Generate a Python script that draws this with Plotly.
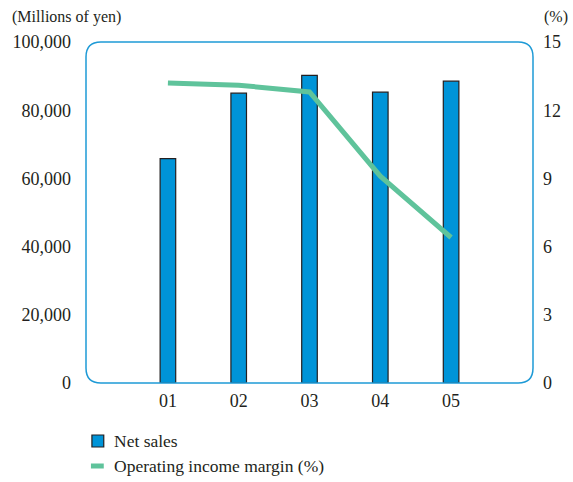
import plotly.graph_objects as go

# Fiscal years and values
years = ["01", "02", "03", "04", "05"]
net_sales = [65800, 85000, 90200, 85300, 88500]          # millions of yen
op_margin = [13.2, 13.1, 12.8, 9.1, 6.4]                 # %
left_ticks = [0, 20000, 40000, 60000, 80000, 100000]
right_ticks = [0, 3, 6, 9, 12, 15]

W, H = 573, 482
L, R, T, B = 86, 34, 42, 99
pw, ph = W - L - R, H - T - B

FONT = "Liberation Serif"
TXT = "#231F20"
BLUE = "#0094D8"
FRAME = "#1E9AD6"
GREEN = "#5FC39B"


def px_x(px):
    return (px - L) / pw


def px_y(py):
    return (H - B - py) / ph


fig = go.Figure()
fig.add_trace(go.Bar(
    x=years, y=net_sales, name="Net sales", width=0.22,
    marker=dict(color=BLUE, line=dict(color=TXT, width=1.2)),
    yaxis="y", showlegend=False,
))
fig.add_trace(go.Scatter(
    x=years, y=op_margin, name="Operating income margin (%)", mode="lines",
    line=dict(color=GREEN, width=5), yaxis="y2", showlegend=False,
))

# Rounded plot frame
rx, ry = 15 / pw, 15 / ph
frame = (f"M {rx},0 L {1-rx},0 Q 1,0 1,{ry} L 1,{1-ry} Q 1,1 {1-rx},1 "
         f"L {rx},1 Q 0,1 0,{1-ry} L 0,{ry} Q 0,0 {rx},0 Z")
shapes = [dict(type="path", path=frame, xref="paper", yref="paper",
               line=dict(color=FRAME, width=1.5), layer="above")]

# Legend keys
shapes.append(dict(type="rect", xref="paper", yref="paper",
                   x0=px_x(92), x1=px_x(104), y0=px_y(447), y1=px_y(435),
                   fillcolor=BLUE, line=dict(color=TXT, width=1.2)))
shapes.append(dict(type="line", xref="paper", yref="paper",
                   x0=px_x(91), x1=px_x(104), y0=px_y(466), y1=px_y(466),
                   line=dict(color=GREEN, width=5)))

annotations = [
    dict(text="(Millions of yen)", x=px_x(9), y=px_y(17), xref="paper", yref="paper",
         xanchor="left", yanchor="middle", showarrow=False, font=dict(size=16)),
    dict(text="(%)", x=px_x(548), y=px_y(17), xref="paper", yref="paper",
         xanchor="left", yanchor="middle", showarrow=False, font=dict(size=16)),
    dict(text="Net sales", x=px_x(112), y=px_y(441), xref="paper", yref="paper",
         xanchor="left", yanchor="middle", showarrow=False, font=dict(size=17.5)),
    dict(text="Operating income margin (%)", x=px_x(112), y=px_y(466),
         xref="paper", yref="paper", xanchor="left", yanchor="middle",
         showarrow=False, font=dict(size=17.5)),
]

fig.update_layout(
    width=W, height=H,
    margin=dict(l=L, r=R, t=T, b=B, pad=0),
    paper_bgcolor="white", plot_bgcolor="white",
    font=dict(family=FONT, color=TXT),
    shapes=shapes, annotations=annotations,
    xaxis=dict(type="category", range=[-1.157, 5.157], showgrid=False,
               showline=False, zeroline=False, ticks="",
               tickfont=dict(size=18), ticklabelstandoff=5),
    yaxis=dict(range=[0, 100000], tickvals=left_ticks, tickformat=",d",
               showgrid=False, showline=False, zeroline=False, ticks="",
               tickfont=dict(size=18), ticklabelstandoff=14),
    yaxis2=dict(range=[0, 15], tickvals=right_ticks, overlaying="y", side="right",
                showgrid=False, showline=False, zeroline=False, ticks="",
                tickfont=dict(size=18), ticklabelstandoff=9),
)

fig.write_html("out.html")
